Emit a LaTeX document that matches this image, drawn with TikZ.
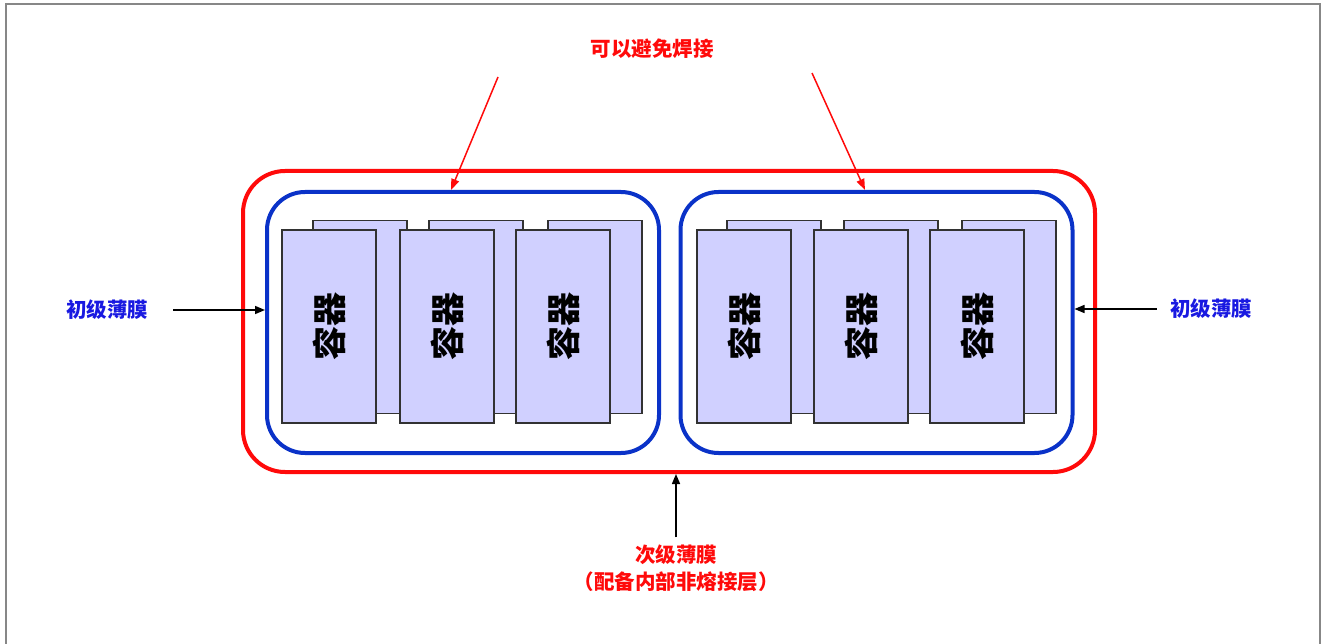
\documentclass[tikz,border=0pt]{standalone}
\usepackage{fontspec}
\setmainfont{Noto Sans CJK SC}
\usetikzlibrary{arrows.meta,calc}
\definecolor{memred}{RGB}{255,10,10}
\definecolor{memblue}{RGB}{10,50,200}
\definecolor{labblue}{RGB}{25,25,225}
\definecolor{boxfill}{RGB}{208,208,255}
\definecolor{boxline}{RGB}{50,50,50}
\definecolor{framegray}{RGB}{135,135,135}
\tikzset{
  membrane/.style={rectangle, rounded corners=#1, line width=4pt, inner sep=0pt},
  contbox/.style={rectangle, draw=boxline, fill=boxfill, line width=1.6pt, minimum width=94pt, minimum height=193pt, inner sep=0pt},
  conttext/.style={rotate=90, font=\fontsize{34}{34}\selectfont\bfseries, inner sep=0pt},
  lab/.style={font=\fontsize{20.5}{27}\selectfont\bfseries, inner sep=0pt, align=center},
  blackarr/.style={-{Triangle[length=10pt,width=8pt]}, line width=1.5pt, black},
  redarr/.style={-{Triangle[length=11pt,width=8pt]}, line width=1.5pt, memred},
}
\begin{document}
\begin{tikzpicture}[x=1pt,y=-1pt]
\useasboundingbox (0,0) rectangle (1325,644);
\draw[framegray, line width=2pt] (6,644) -- (6,4) -- (1320,4) -- (1320,644);

% membranes
\node[membrane=42pt, draw=memred, minimum width=852pt, minimum height=301pt] (outer) at (669,321.5) {};
\node[membrane=38pt, draw=memblue, minimum width=392pt, minimum height=261pt] (innerL) at (463,322.5) {};
\node[membrane=38pt, draw=memblue, minimum width=392pt, minimum height=261pt] (innerR) at (876.5,322.5) {};

% containers, left group
\foreach \i/\bx/\fx in {1/360/329, 2/476/447, 3/595/563}{
  \node[contbox] (bL\i) at (\bx,317) {};
  \node[contbox] (fL\i) at (\fx,326.5) {};
  \node[conttext] (tL\i) at (fL\i.center) {容器};
}
% containers, right group
\foreach \i/\bx/\fx in {1/774/744, 2/891/861, 3/1009/977}{
  \node[contbox] (bR\i) at (\bx,317) {};
  \node[contbox] (fR\i) at (\fx,326.5) {};
  \node[conttext] (tR\i) at (fR\i.center) {容器};
}

% labels
\node[lab, text=memred] (weld) at (652,49) {可以避免焊接};
\node[lab, text=labblue] (primL) at (107,310) {初级薄膜};
\node[lab, text=labblue] (primR) at (1211,309) {初级薄膜};
\node[lab, text=memred] (second) at (676,568) {次级薄膜\\（配备内部非熔接层）};

% arrows
\coordinate (w1) at (498,77);
\coordinate (w2) at (812,73);
\coordinate (h1) at (451,0);
\coordinate (h2) at (865,0);
\draw[redarr] (w1) -- (h1 |- innerL.north);
\draw[redarr] (w2) -- (h2 |- innerR.north);
\draw[blackarr] ([xshift=25pt]primL.east) -- (primL.east -| innerL.west);
\draw[blackarr] ([xshift=-13pt]primR.west) -- (primR.west -| innerR.east);
\draw[blackarr] ([yshift=7pt]second.north) -- (second.north |- outer.south);
\end{tikzpicture}
\end{document}
